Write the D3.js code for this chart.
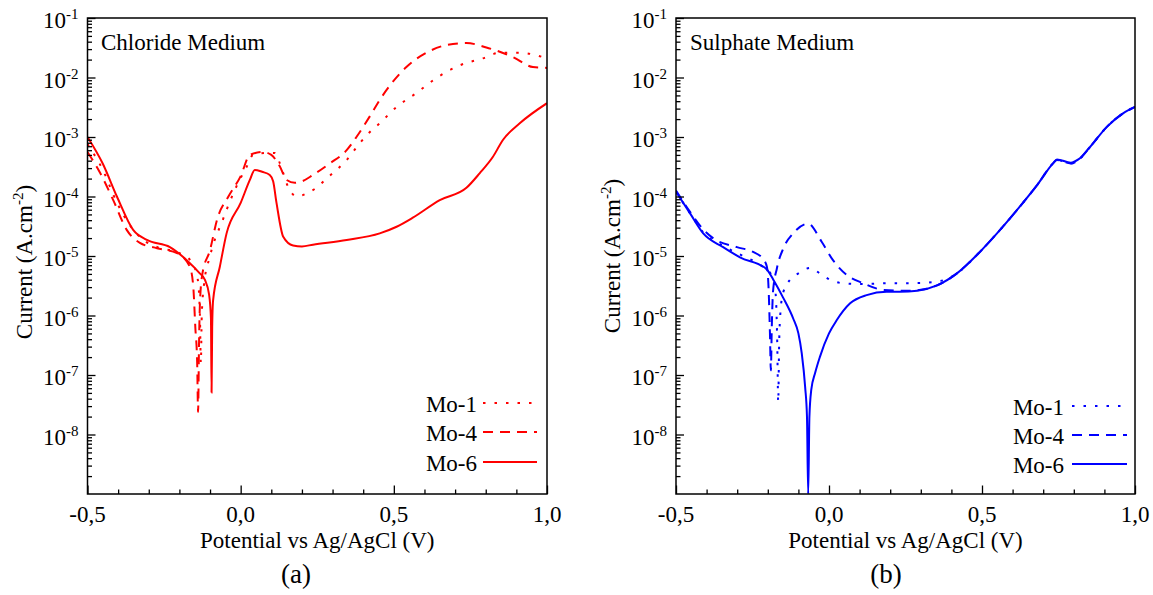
<!DOCTYPE html>
<html><head><meta charset="utf-8">
<script src="https://cdn.jsdelivr.net/npm/d3@7"></script>
<style>
body{margin:0;background:#fff}
svg{display:block}
text{font-family:"Liberation Serif","Times New Roman",serif;fill:#000}
</style>
</head><body>
<svg id="chart" width="1153" height="595"></svg>
<script>
// ---------- data ----------
const potentialTicks = [-0.5, 0.0, 0.5, 1.0];
const currentTickExponents = [-1, -2, -3, -4, -5, -6, -7, -8];
const seriesNames = ["Mo-1", "Mo-4", "Mo-6"];

// [potential (V vs Ag/AgCl), current (A.cm^-2)]
const chlorideMo1 = [
 [-0.5,7.6e-4],[-0.45,2.8e-4],[-0.404,7.9e-5],[-0.36,3.2e-5],[-0.32,1.9e-5],[-0.27,1.4e-5],
 [-0.2,1.12e-5],[-0.16,7.9e-6],[-0.14,4.0e-6],[-0.133,1.0e-6],[-0.13,1.6e-7],[-0.127,1.0e-6],
 [-0.12,3.2e-6],[-0.1,1.0e-5],[-0.058,4.1e-5],[-0.02,1.26e-4],[0.02,3.2e-4],[0.04,5.0e-4],
 [0.085,5.4e-4],[0.111,5.4e-4],[0.128,3.6e-4],[0.155,1.45e-4],[0.183,1.0e-4],[0.219,1.15e-4],
 [0.247,1.4e-4],[0.28,2.0e-4],[0.313,2.8e-4],[0.346,4.1e-4],[0.389,7.9e-4],[0.421,1.2e-3],
 [0.454,1.7e-3],[0.509,3.2e-3],[0.574,5.5e-3],[0.639,9.8e-3],[0.715,1.6e-2],[0.791,2.1e-2],
 [0.845,2.6e-2],[0.911,2.6e-2],[1.0,2.1e-2]
];
const chlorideMo4 = [
 [-0.5,5.6e-4],[-0.459,2.5e-4],[-0.416,8.7e-5],[-0.372,2.75e-5],[-0.329,1.66e-5],[-0.273,1.35e-5],
 [-0.208,1.12e-5],[-0.166,6.6e-6],[-0.155,3.2e-6],[-0.148,6.3e-7],[-0.142,1.6e-7],[-0.139,2.4e-8],
 [-0.136,3.2e-7],[-0.133,1.6e-6],[-0.125,5.0e-6],[-0.1,1.26e-5],[-0.077,4.1e-5],[-0.04,1.0e-4],
 [0.0,2.2e-4],[0.03,5.0e-4],[0.073,5.6e-4],[0.1,5.0e-4],[0.128,3.2e-4],[0.15,1.9e-4],
 [0.177,1.7e-4],[0.2,1.8e-4],[0.236,2.3e-4],[0.291,3.6e-4],[0.346,6.0e-4],[0.378,1.0e-3],
 [0.421,2.2e-3],[0.454,4.2e-3],[0.497,8.5e-3],[0.541,1.5e-2],[0.606,2.6e-2],[0.671,3.5e-2],
 [0.737,3.8e-2],[0.802,3.2e-2],[0.889,2.2e-2],[0.954,1.5e-2],[1.0,1.45e-2]
];
const chlorideMo6 = [
 [-0.5,1.0e-3],[-0.45,3.55e-4],[-0.404,1.0e-4],[-0.351,2.75e-5],[-0.306,1.86e-5],[-0.231,1.41e-5],
 [-0.176,8.5e-6],[-0.135,5.2e-6],[-0.117,4.0e-6],[-0.103,2.24e-6],[-0.097,8.9e-7],[-0.095,5.1e-8],
 [-0.093,6.3e-7],[-0.09,1.8e-6],[-0.068,6.6e-6],[-0.046,2.4e-5],[0.0,7.8e-5],[0.03,1.9e-4],
 [0.046,2.8e-4],[0.07,2.6e-4],[0.095,2.3e-4],[0.106,1.8e-4],[0.117,7.8e-5],[0.139,2.1e-5],
 [0.171,1.5e-5],[0.2,1.45e-5],[0.236,1.55e-5],[0.346,1.86e-5],[0.454,2.4e-5],[0.509,3.1e-5],
 [0.562,4.4e-5],[0.65,8.7e-5],[0.737,1.4e-4],[0.78,2.45e-4],[0.823,4.6e-4],[0.856,8.9e-4],
 [0.911,1.7e-3],[1.0,3.7e-3]
];
const sulphateMo1 = [
 [-0.5,1.2e-4],[-0.454,5.2e-5],[-0.411,2.5e-5],[-0.346,1.48e-5],[-0.281,1.0e-5],[-0.225,7.1e-6],
 [-0.19,5.0e-6],[-0.175,2.5e-6],[-0.169,3.2e-7],[-0.166,3.5e-8],[-0.163,3.2e-7],[-0.158,1.26e-6],
 [-0.15,2.4e-6],[-0.127,4.0e-6],[-0.1,5.1e-6],[-0.062,6.3e-6],[-0.03,5.1e-6],[0.003,4.0e-6],
 [0.041,3.5e-6],[0.085,3.4e-6],[0.123,3.4e-6],[0.205,3.5e-6],[0.28,3.5e-6],[0.363,3.8e-6],
 [0.418,5.1e-6],[0.484,1.05e-5],[0.549,2.4e-5],[0.614,5.9e-5],[0.68,1.55e-4],[0.732,3.6e-4],
 [0.745,4.1e-4],[0.79,3.6e-4],[0.815,4.1e-4],[0.853,6.8e-4],[0.908,1.48e-3],[0.961,2.5e-3],[1.0,3.2e-3]
];
const sulphateMo4 = [
 [-0.5,1.26e-4],[-0.454,5.5e-5],[-0.411,2.8e-5],[-0.379,2.0e-5],[-0.301,1.41e-5],[-0.248,1.17e-5],
 [-0.215,8.9e-6],[-0.203,6.6e-6],[-0.197,2.5e-6],[-0.193,5.0e-7],[-0.19,1.2e-7],[-0.187,6.3e-7],
 [-0.183,2.5e-6],[-0.17,6.3e-6],[-0.149,1.35e-5],[-0.117,2.4e-5],[-0.068,3.5e-5],[-0.024,1.74e-5],
 [0.013,8.5e-6],[0.058,4.8e-6],[0.111,3.5e-6],[0.176,2.7e-6],[0.25,2.6e-6],[0.3,2.7e-6],
 [0.353,3.2e-6],[0.418,5.1e-6],[0.484,1.05e-5],[0.549,2.4e-5],[0.614,5.9e-5],[0.68,1.55e-4],
 [0.732,3.6e-4],[0.745,4.1e-4],[0.79,3.6e-4],[0.815,4.1e-4],[0.853,6.8e-4],[0.908,1.48e-3],
 [0.961,2.5e-3],[1.0,3.2e-3]
];
const sulphateMo6 = [
 [-0.5,1.2e-4],[-0.454,5.2e-5],[-0.411,2.4e-5],[-0.346,1.41e-5],[-0.291,9.5e-6],[-0.204,6.0e-6],
 [-0.182,4.0e-6],[-0.15,2.0e-6],[-0.117,8.9e-7],[-0.1,5.0e-7],[-0.089,2.3e-7],[-0.078,6.3e-8],
 [-0.072,2.0e-8],[-0.068,1.0e-9],[-0.064,2.0e-8],[-0.058,5.6e-8],[-0.045,1.1e-7],[-0.03,2.0e-7],
 [0.0,5.0e-7],[0.025,8.3e-7],[0.069,1.6e-6],[0.123,2.2e-6],[0.188,2.5e-6],[0.232,2.5e-6],
 [0.288,2.6e-6],[0.353,3.2e-6],[0.418,5.1e-6],[0.484,1.05e-5],[0.549,2.4e-5],[0.614,5.9e-5],
 [0.68,1.55e-4],[0.732,3.6e-4],[0.745,4.2e-4],[0.79,3.7e-4],[0.815,4.2e-4],[0.853,6.8e-4],
 [0.908,1.48e-3],[0.961,2.5e-3],[1.0,3.2e-3]
];

// ---------- layout ----------
const dashes = ["2.5,9", "10,7", null];
const panels = [
  {title:"Chloride Medium", tag:"(a)", color:"#ff0000", series:[chlorideMo1, chlorideMo4, chlorideMo6],
   left:87.5, right:547, titleX:101, tagX:296, yTitleX:32, yTitleY:262,
   legX:477, legLine:[483,537], legY:[403,432,462]},
  {title:"Sulphate Medium", tag:"(b)", color:"#0000ff", series:[sulphateMo1, sulphateMo4, sulphateMo6],
   left:676, right:1135, titleX:690, tagX:886, yTitleX:620, yTitleY:256,
   legX:1064, legLine:[1072,1127], legY:[406,435,464]}
];
const plotTop = 18, plotBottom = 494;
const svg = d3.select("#chart");
const fmt = d => d.toFixed(1).replace(".", ",");

const minorY = [];
for (let e = -9; e <= -2; e++) for (let m = 2; m <= 9; m++) minorY.push(m * Math.pow(10, e));
const majorY = currentTickExponents.map(e => Math.pow(10, e));
const minorX = d3.range(-4, 10).map(i => i / 10).filter(v => Math.abs(v * 2 - Math.round(v * 2)) > 1e-6);

panels.forEach((p, pi) => {
  const x = d3.scaleLinear().domain([-0.5, 1.0]).range([p.left, p.right]);
  const y = d3.scaleLog().domain([1e-9, 1e-1]).range([plotBottom, plotTop]);
  const g = svg.append("g");

  const clipId = "clip" + pi;
  svg.append("clipPath").attr("id", clipId).append("rect")
    .attr("x", p.left).attr("y", plotTop).attr("width", p.right - p.left).attr("height", plotBottom - plotTop);

  // curves
  const line = d3.line().x(d => x(d[0])).y(d => y(d[1])).curve(d3.curveMonotoneX);
  p.series.forEach((s, i) => {
    g.append("path").datum(s).attr("d", line)
      .attr("fill", "none").attr("stroke", p.color).attr("stroke-width", 2)
      .attr("stroke-dasharray", dashes[i]).attr("clip-path", `url(#${clipId})`);
  });

  // y axis ticks (inward)
  const ya = g.append("g").attr("transform", `translate(${p.left},0)`);
  ya.append("g").call(d3.axisLeft(y).tickValues(minorY).tickSize(-4.5).tickFormat(""));
  ya.append("g").call(d3.axisLeft(y).tickValues(majorY).tickSize(-8).tickFormat(""));
  ya.selectAll(".domain").remove();
  ya.selectAll("line").attr("stroke", "#000").attr("stroke-width", 1.3);
  currentTickExponents.forEach(e => {
    const t = g.append("text").attr("x", p.left - 9).attr("y", y(Math.pow(10, e)) + 10)
      .attr("text-anchor", "end").style("font-size", "23px");
    t.append("tspan").text("10");
    t.append("tspan").attr("dy", -9).style("font-size", "15px").text(String(e));
  });

  // x axis ticks (inward)
  const xa = g.append("g").attr("transform", `translate(0,${plotBottom})`);
  xa.append("g").call(d3.axisBottom(x).tickValues(minorX).tickSize(-4.5).tickFormat(""));
  xa.append("g").call(d3.axisBottom(x).tickValues(potentialTicks).tickSize(-8.5).tickFormat(""));
  xa.selectAll(".domain").remove();
  xa.selectAll("line").attr("stroke", "#000").attr("stroke-width", 1.3);
  potentialTicks.forEach(v => {
    g.append("text").attr("x", x(v)).attr("y", plotBottom + 28).attr("text-anchor", "middle")
      .style("font-size", "23px").text(fmt(v));
  });

  // frame
  g.append("rect").attr("x", p.left).attr("y", plotTop).attr("width", p.right - p.left)
    .attr("height", plotBottom - plotTop).attr("fill", "none").attr("stroke", "#000").attr("stroke-width", 1.5);

  // titles
  g.append("text").attr("x", (p.left + p.right) / 2).attr("y", 548).attr("text-anchor", "middle")
    .style("font-size", "23px").text("Potential vs Ag/AgCl (V)");
  const yt = g.append("text").attr("transform", `translate(${p.yTitleX},${p.yTitleY}) rotate(-90)`)
    .attr("text-anchor", "middle").style("font-size", "23px");
  yt.append("tspan").text("Current (A.cm");
  yt.append("tspan").attr("dy", -9).style("font-size", "15px").text("-2");
  yt.append("tspan").attr("dy", 9).text(")");
  g.append("text").attr("x", p.titleX).attr("y", 50).style("font-size", "23px").text(p.title);
  g.append("text").attr("x", p.tagX).attr("y", 583).attr("text-anchor", "middle")
    .style("font-size", "27px").text(p.tag);

  // legend
  seriesNames.forEach((n, i) => {
    g.append("text").attr("x", p.legX).attr("y", p.legY[i] + 9).attr("text-anchor", "end")
      .style("font-size", "23px").text(n);
    g.append("line").attr("x1", p.legLine[0]).attr("x2", p.legLine[1])
      .attr("y1", p.legY[i]).attr("y2", p.legY[i])
      .attr("stroke", p.color).attr("stroke-width", 2).attr("stroke-dasharray", dashes[i]);
  });
});
</script>
</body></html>
